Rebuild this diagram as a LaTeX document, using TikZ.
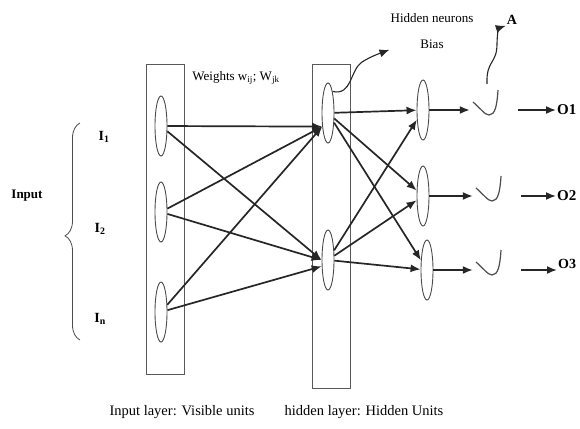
\documentclass[tikz,border=0pt]{standalone}
\usepackage{fontspec}
\setmainfont{Liberation Serif}
\usetikzlibrary{shapes.geometric,arrows.meta,decorations.pathreplacing}

\tikzset{
  unit/.style={draw=black!70, ellipse, line width=0.9pt, inner sep=0pt,
    minimum width=12pt, minimum height=60pt},
  layerbox/.style={draw=black!65, line width=1pt, inner sep=0pt, minimum width=38pt},
  link/.style={-{Latex[length=10pt,width=8pt]}, line width=1.7pt, black!85},
  % activation: a small tick drawn inside an empty box
  actfn/.style={inner sep=0pt, minimum width=36pt, minimum height=48pt,
    path picture={\draw[line width=1.2pt, black!70]
      ([shift={(-15,-8)}]path picture bounding box.center)
      .. controls ([shift={(-8,-2)}]path picture bounding box.center)
              and ([shift={(-3,5)}]path picture bounding box.center)
      .. ([shift={(1,5)}]path picture bounding box.center)
      .. controls ([shift={(7,5)}]path picture bounding box.center)
              and ([shift={(9,-4)}]path picture bounding box.center)
      .. ([shift={(10,-20)}]path picture bounding box.center);}},
  lbl/.style={font=\fontsize{13}{15}\selectfont, inner sep=1pt},
  bold/.style={font=\fontsize{14}{16}\selectfont\bfseries, inner sep=1pt}
}

\begin{document}
\begin{tikzpicture}[x=1pt,y=-1pt]
  \useasboundingbox (0,0) rectangle (580,428);

  % layers
  \node[layerbox, minimum height=310pt] (visible) at (165,219) {};
  \node[layerbox, minimum height=324pt] (hidden) at (331,226) {};

  \draw
    (161,126) node[unit] (i1){}
    (161,212) node[unit] (i2){}
    (161,312) node[unit] (i3){}
    (328,113) node[unit] (h1){}
    (328,260) node[unit] (h2){}
    (423,110) node[unit] (o1){}
    (423,196) node[unit] (o2){}
    (427,270) node[unit] (o3){}
    (488,110) node[actfn] (a1){}
    (491,196) node[actfn] (a2){}
    (491,270) node[actfn] (a3){};

  % labels
  \draw
    (27,196) node[bold, font=\fontsize{13}{15}\selectfont\bfseries] (input){Input}
    (104,137) node[bold] (l1){I\textsubscript{1}}
    (100,229) node[bold] (l2){I\textsubscript{2}}
    (100,319) node[bold] (l3){I\textsubscript{n}}
    (236,78) node[lbl] (weights){Weights w\textsubscript{ij}; W\textsubscript{jk}}
    (432,31) node[lbl, align=center] (bias){Hidden neurons\\[11pt]Bias}
    (512,20) node[bold] (lblA){A}
    (556,110) node[bold, anchor=west, font=\fontsize{15}{17}\selectfont\bfseries] (y1){O1}
    (556,196) node[bold, anchor=west, font=\fontsize{15}{17}\selectfont\bfseries] (y2){O2}
    (557,270) node[bold, anchor=south west] (y3){O3}
    (182,412) node[lbl, font=\fontsize{14.5}{16}\selectfont] (visname){Input layer: Visible units}
    (364,412) node[lbl, font=\fontsize{14.5}{16}\selectfont] (hidname){hidden layer: Hidden Units};
  \coordinate (tipA) at (487,84);

  \draw[black!70, line width=0.8pt, decorate,
        decoration={brace, amplitude=15pt, aspect=0.48}] (80,340) -- (80,123);

  \begin{scope}[link]
    \draw (i1) to (h1.247);
    \draw (i1) to (h2.west);
    \draw (i2) to (h1.247);
    \draw (i2) to (h2.west);
    \draw (i3) to (h1.247);
    \draw (i3) to (h2.225);
    \draw (h1) to (o1);
    \draw (h1) to (o2);
    \draw (h1) to (o3);
    \draw (h2) to (o1);
    \draw (h2) to (o2);
    \draw (h2) to (o3);
    \draw (o1) to (a1);
    \draw (o2) to (a2);
    \draw (o3) to (a3);
    \draw[shorten <=12pt] (a1) to (y1);
    \draw[shorten <=12pt] (a2) to (y2);
    \draw[shorten <=12pt] (a3) to (a3 -| y3.south west);
  \end{scope}

  \begin{scope}[link, line width=1.1pt]
    \draw (h1.north east) .. controls (352,96) and (350,70) .. (362,62)
      .. controls (370,57) and (378,54) .. (bias.south west);
    \draw (tipA) .. controls (486,60) and (497,64) .. (497,44)
      .. controls (497,35) and (499,28) .. (lblA.south west);
  \end{scope}
\end{tikzpicture}
\end{document}
